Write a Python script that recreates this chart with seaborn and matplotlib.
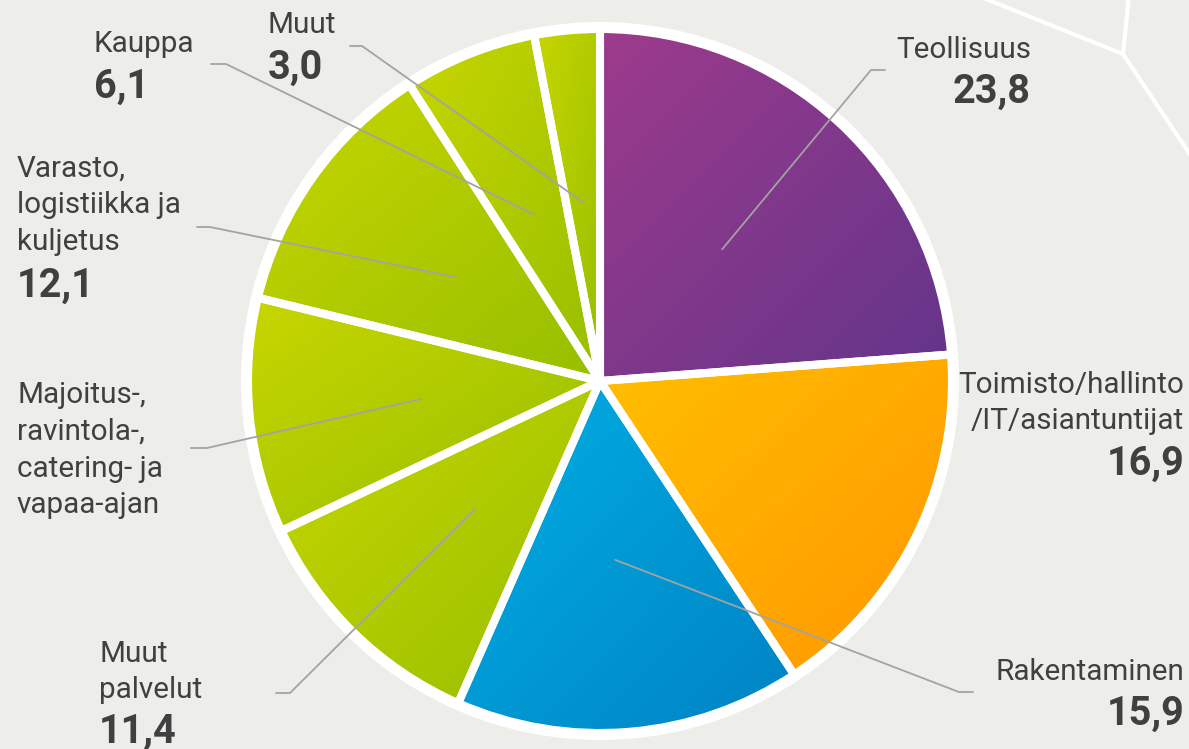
import numpy as np
import matplotlib
matplotlib.use("Agg")
import matplotlib.pyplot as plt
from matplotlib.patches import Circle
import seaborn as sns

# ---------------- data ----------------
categories = ["Teollisuus", "Toimisto/hallinto/IT/asiantuntijat", "Rakentaminen", "Muut palvelut",
              "Majoitus-, ravintola-, catering- ja vapaa-ajan", "Varasto, logistiikka ja kuljetus",
              "Kauppa", "Muut"]
values = [23.8, 16.9, 15.9, 11.4, 10.8, 12.1, 6.1, 3.0]
label_lines = [["Teollisuus"], ["Toimisto/hallinto", "/IT/asiantuntijat"], ["Rakentaminen"],
               ["Muut", "palvelut"], ["Majoitus-,", "ravintola-,", "catering- ja", "vapaa-ajan"],
               ["Varasto,", "logistiikka ja", "kuljetus"], ["Kauppa"], ["Muut"]]
value_labels = ["23,8", "16,9", "15,9", "11,4", "", "12,1", "6,1", "3,0"]
green = ("#C8D600", "#96BF00")
gradient_colors = [("#9E3B8C", "#62358A"), ("#FFBF00", "#FF9600"), ("#00B0E3", "#0082C5"),
                   green, green, green, green, green]

# ---------------- layout (pixel coords, y down) ----------------
W, H = 1189, 749
BG = "#EDEDE9"
TXT = "#404040"
CENTER = (600, 381)
R = 352
# x, ha, name baselines, value baseline, (leader end, elbow) or None
layout = [
    (1031, "right", [58], 103, ((885, 70), (871, 70))),
    (1184, "right", [393, 429], 475, None),
    (1184, "right", [680], 725, ((973, 692), (959, 692))),
    (99, "left", [662, 698], 743, ((276, 693), (290, 693))),
    (17, "left", [403, 440, 477, 513], None, ((191, 448), (207, 448))),
    (17, "left", [177, 213, 250], 297, ((197, 227), (210, 227))),
    (94, "left", [52], 98, ((211, 64), (226, 64))),
    (268, "left", [33], 79, ((350, 46), (362, 46))),
]


def P(x, y):
    return x, H - y


sns.set_theme(style="white")
plt.rcParams["font.family"] = ["Roboto", "DejaVu Sans"]

fig = plt.figure(figsize=(W / 100, H / 100), dpi=100, facecolor=BG)
ax = fig.add_axes([0, 0, 1, 1])
ax.set_facecolor(BG)

# decorative white lines in the corner
for seg in [[(976, -5), (1123, 54)], [(1123, 54), (1129, -5)], [(1123, 54), (1195, 162)]]:
    xs, ys = zip(*[P(*p) for p in seg])
    ax.plot(xs, ys, color="white", lw=3.0, solid_capstyle="round", zorder=0.2)

# white ring behind the pie
ax.add_patch(Circle(P(*CENTER), R + 7, facecolor="white", edgecolor="none", zorder=0.5))

explode = [0.014] + [0] * (len(values) - 1)
wedges, _ = ax.pie(values, radius=R, center=P(*CENTER), startangle=90, counterclock=False,
                   explode=explode, colors=[c[0] for c in gradient_colors],
                   wedgeprops=dict(edgecolor="white", linewidth=5.8, joinstyle="round"))

n = 200
for w, (c0, c1) in zip(wedges, gradient_colors):
    ext = w.get_path().get_extents()
    yy, xx = np.mgrid[0:1:n * 1j, 0:1:n * 1j]
    grad = (xx + (1 - yy)) / 2.0
    cmap = sns.blend_palette([c0, c1], as_cmap=True)
    im = ax.imshow(grad, extent=[ext.x0, ext.x1, ext.y0, ext.y1], origin="lower",
                   cmap=cmap, vmin=0, vmax=1, interpolation="bilinear", zorder=1, aspect="auto")
    im.set_clip_path(w)
    w.set_facecolor("none")
    w.set_zorder(2)

# labels + leader lines
for w, lines, val, (x, ha, bls, vbl, leader) in zip(wedges, label_lines, value_labels, layout):
    for line, bl in zip(lines, bls):
        ax.text(*P(x, bl), line, ha=ha, va="baseline", fontsize=21.3, color=TXT, zorder=5)
    if val and vbl is not None:
        ax.text(*P(x, vbl), val, ha=ha, va="baseline", fontsize=28.5, fontweight="bold",
                color=TXT, zorder=5)
    if leader is not None:
        mid = np.deg2rad((w.theta1 + w.theta2) / 2)
        cx, cy = w.center
        inner = (cx + 0.51 * R * np.cos(mid), cy + 0.51 * R * np.sin(mid))
        end, elbow = leader
        pts = [inner, P(*elbow), P(*end)]
        xs, ys = zip(*pts)
        ax.plot(xs, ys, color="#A3A3A3", lw=1.3, zorder=4)

ax.set_xlim(0, W)
ax.set_ylim(0, H)
ax.set_aspect("equal")
ax.axis("off")
fig.savefig("out.png", dpi=100, facecolor=BG)
